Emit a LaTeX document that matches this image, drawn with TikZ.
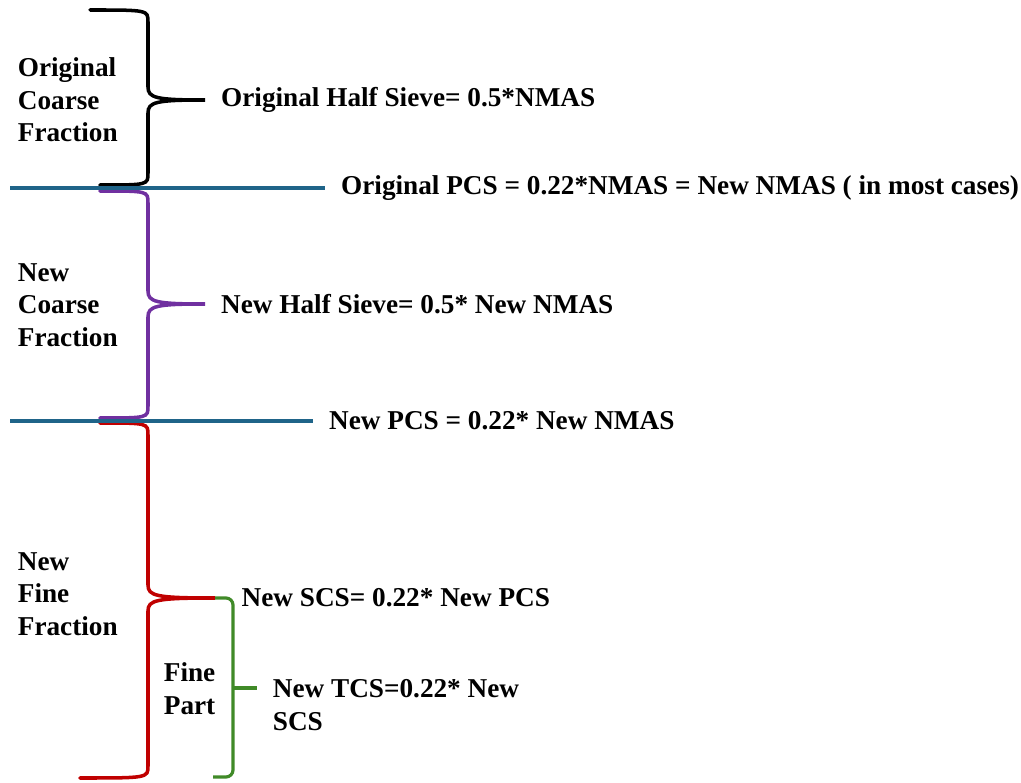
\documentclass[tikz,border=0pt]{standalone}
\usepackage{fontspec}
\setmainfont{Liberation Serif}
\usetikzlibrary{positioning}
\definecolor{sieveblue}{RGB}{31,100,137}
\definecolor{coarsepurple}{RGB}{112,48,160}
\definecolor{finered}{RGB}{192,0,0}
\definecolor{partgreen}{RGB}{64,138,40}
\newcommand{\fracbrace}[8]{%
  \draw[bracepath, #1] (#2,#3) .. controls (#4,#3) .. (#4,#3+12) -- (#4,#6-13)
    .. controls (#4,#6-2) and (#4+8,#6) .. (#5,#6)
    .. controls (#4+8,#6) and (#4,#6+2) .. (#4,#6+13) -- (#4,#7-12)
    .. controls (#4,#7) .. (#8,#7);}

\begin{document}
\begin{tikzpicture}[x=0.02cm, y=-0.02cm,
  lbl/.style={font=\fontsize{15.5}{18.6}\selectfont\bfseries, inner sep=2pt, align=left},
  sieveline/.style={draw=sieveblue, line width=2.2pt},
  bracepath/.style={line width=2pt, line cap=round}
]
\useasboundingbox (0,0) rectangle (1021,783);

\fracbrace{black}{90}{10}{148}{205}{100}{185}{100}
\fracbrace{coarsepurple}{100}{191}{148}{205}{304}{418}{100}
\fracbrace{finered}{100}{423}{148}{215}{598}{778}{80}

\coordinate (origtip) at (205,100);
\coordinate (newtip) at (205,304);
\coordinate (scstip) at (215,598);
\coordinate (partmid) at (233,688);
\coordinate (tcstip) at (257,688);

\draw[partgreen, line width=1.8pt, rounded corners=4pt]
  (scstip) -- (233,598) -- (partmid) -- (233,777) -- (213,777);
\draw[partgreen, line width=1.8pt] (partmid) -- (tcstip);

\coordinate (origpcsstart) at (10,188);
\coordinate (origpcsend) at (325,188);
\coordinate (newpcsstart) at (10,421);
\coordinate (newpcsend) at (313,421);
\draw[sieveline] (origpcsstart) -- (origpcsend);
\draw[sieveline] (newpcsstart) -- (newpcsend);

\node[lbl, anchor=west] (origcoarse) at (14,100) {Original\\Coarse\\Fraction};
\node[lbl, right=7pt of origtip] (orighalf) {Original Half Sieve= 0.5*NMAS};
\node[lbl, right=7pt of origpcsend] (origpcs) {Original PCS = 0.22*NMAS = New NMAS ( in most cases)};
\node[lbl, anchor=west] (newcoarse) at (14,305) {New\\Coarse\\Fraction};
\node[lbl, right=7pt of newtip] (newhalf) {New Half Sieve= 0.5* New NMAS};
\node[lbl, right=7pt of newpcsend] (newpcs) {New PCS = 0.22* New NMAS};
\node[lbl, anchor=west] (newfine) at (14,594) {New\\Fine\\Fraction};
\node[lbl, right=13pt of scstip] (newscs) {New SCS= 0.22* New PCS};
\node[lbl, anchor=west] (finepart) at (160,689) {Fine\\Part};
\node[lbl, anchor=west] (newtcs) at (269,705) {New TCS=0.22* New\\SCS};
\end{tikzpicture}
\end{document}
